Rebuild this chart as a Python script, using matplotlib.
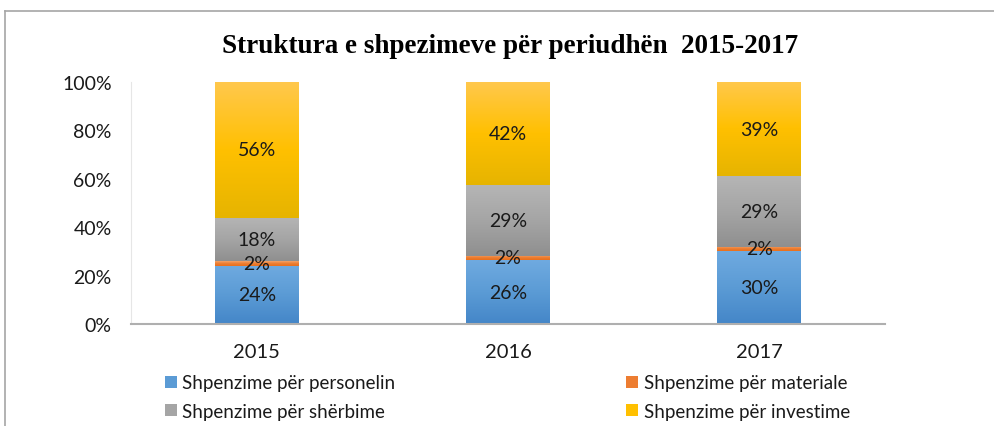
import matplotlib.pyplot as plt
import numpy as np
from matplotlib.colors import LinearSegmentedColormap
from matplotlib.lines import Line2D

years = ["2015", "2016", "2017"]
series = ["Shpenzime për personelin", "Shpenzime për materiale",
          "Shpenzime për shërbime", "Shpenzime për investime"]
personeli = [24, 26, 30]
materiale = [2, 2, 2]
sherbime = [18, 29, 29]
investime = [56, 42, 39]

# ngjyrat (poshte -> lart) per gradientin e cdo serie
grads = [["#4486C8", "#5B9BD5", "#6FAAE0"],
         ["#E8701C", "#ED7D31", "#F4A46A"],
         ["#8F8F8F", "#A5A5A5", "#B5B5B5"],
         ["#E6B400", "#FFC000", "#FFC84D"]]
solid = ["#5B9BD5", "#ED7D31", "#A5A5A5", "#FFC000"]

plt.rcParams['font.family'] = ['Lato', 'DejaVu Sans']

vals = np.array([personeli, materiale, sherbime, investime], dtype=float)
pct = vals / vals.sum(axis=0) * 100

fig = plt.figure(figsize=(9.95, 4.27), dpi=100)
ax = fig.add_axes([0.1317, 0.2389, 0.7578, 0.5667])

x = np.arange(len(years))
bottom = np.zeros(len(years))
for i in range(len(series)):
    bars = ax.bar(x, pct[i], 0.334, bottom=bottom, color="none", linewidth=0)
    cmap = LinearSegmentedColormap.from_list("g%d" % i, grads[i])
    grad = np.linspace(0, 1, 256).reshape(-1, 1)
    for b in bars:
        x0, y0 = b.get_x(), b.get_y()
        im = ax.imshow(grad, cmap=cmap, origin="lower", aspect="auto",
                       extent=[x0, x0 + b.get_width(), y0, y0 + b.get_height()],
                       zorder=2)
        im.set_clip_path(b)
    for j in range(len(years)):
        ax.text(x[j], bottom[j] + pct[i][j] / 2, "%d%%" % vals[i][j],
                ha="center", va="center", fontsize=14, color="#1a1a1a", zorder=4)
    bottom += pct[i]

ax.set_xlim(-0.5, 2.5)
ax.set_ylim(0, 100)
ax.set_yticks(np.arange(0, 101, 20))
ax.set_yticklabels(["%d%%" % v for v in range(0, 101, 20)])
ax.set_xticks(x)
ax.set_xticklabels(years)
ax.tick_params(axis="y", length=0, pad=14, labelsize=14, colors="#1a1a1a")
ax.tick_params(axis="x", length=0, pad=14, labelsize=14.5, colors="#1a1a1a")
for s in ["top", "right"]:
    ax.spines[s].set_visible(False)
ax.spines["bottom"].set_color("#AFAFAF")
ax.spines["bottom"].set_linewidth(1.5)
ax.spines["left"].set_color("#E6E6E6")
ax.spines["left"].set_linewidth(0.8)

fig.text(0.513, 0.89, "Struktura e shpezimeve për periudhën  2015-2017",
         ha="center", va="center", fontsize=19.5, fontweight="bold",
         family="Liberation Serif")

# renditja e legjendes: rreshti i pare personeli/materiale, i dyti sherbime/investime
order = [0, 2, 1, 3]
handles = [Line2D([], [], marker="s", linestyle="none", markersize=8,
                  markerfacecolor=solid[k], markeredgewidth=0) for k in order]
fig.legend(handles, [series[k] for k in order], ncol=2, loc="center left",
           bbox_to_anchor=(0.148, 0.068), frameon=False, fontsize=13.5,
           handlelength=0.7, handletextpad=0.25, columnspacing=12.3,
           labelspacing=0.62, labelcolor="#1a1a1a")

# kornizat e figures
fig.add_artist(Line2D([0.005, 1.0], [0.972, 0.972], color="#A6A6A6", lw=1.2))
fig.add_artist(Line2D([0.005, 0.005], [0.0, 0.972], color="#A6A6A6", lw=1.2))

fig.savefig("out.png", dpi=100)
